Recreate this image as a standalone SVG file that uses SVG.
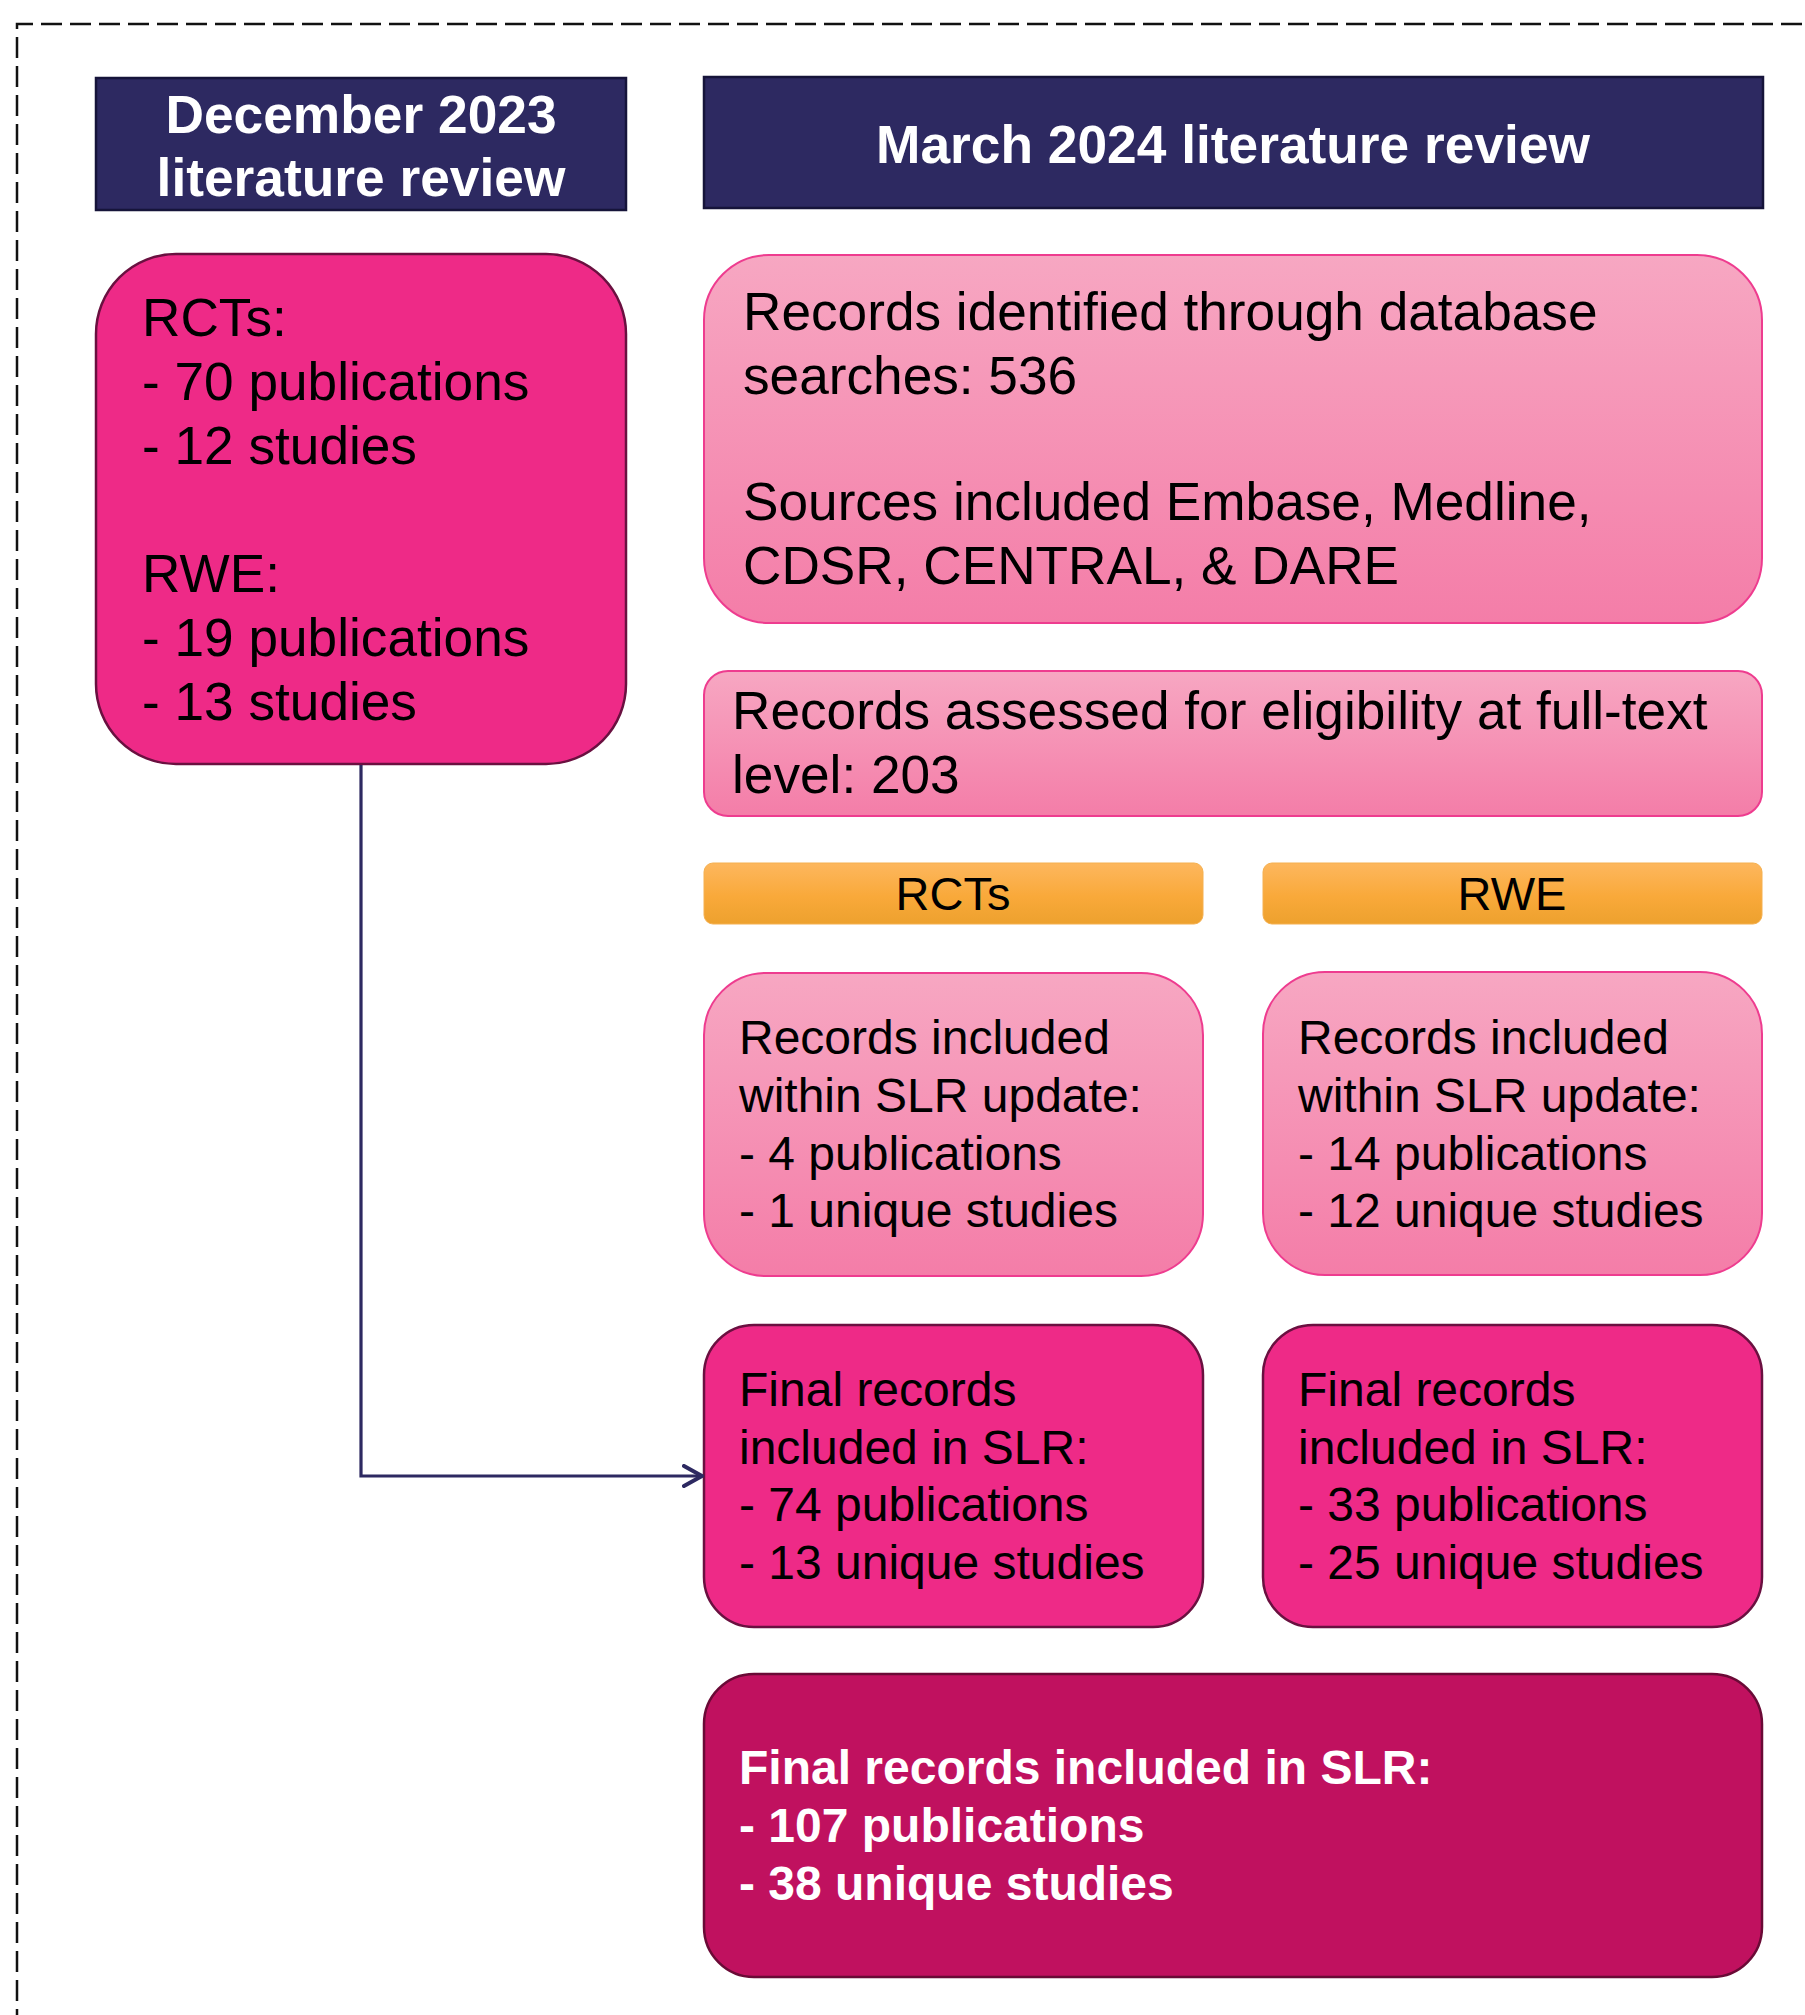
<svg xmlns="http://www.w3.org/2000/svg" width="1805" height="2015" viewBox="0 0 1805 2015">
  <defs>
    <linearGradient id="lightPink" x1="0" y1="0" x2="0" y2="1">
      <stop offset="0" stop-color="#F7A7C2"/>
      <stop offset="1" stop-color="#F47DA8"/>
    </linearGradient>
    <linearGradient id="orange" x1="0" y1="0" x2="0" y2="1">
      <stop offset="0" stop-color="#FDB75E"/>
      <stop offset="0.55" stop-color="#F9A93A"/>
      <stop offset="1" stop-color="#EDA12E"/>
    </linearGradient>
    <marker id="chevron" viewBox="0 0 24 24" markerWidth="24" markerHeight="24" refX="20" refY="12" markerUnits="userSpaceOnUse" orient="auto">
      <path d="M2,2 L20,12 L2,22" fill="none" stroke="#2D2961" stroke-width="4" stroke-linecap="round" stroke-linejoin="round"/>
    </marker>
    <style>
      text { font-family: "Liberation Sans", Arial, sans-serif; }
      .hdr { fill: #2D2961; stroke: #16143A; stroke-width: 2.5; }
      .hdrText { fill: #FFFFFF; font-weight: bold; font-size: 53.3px; text-anchor: middle; }
      .hot { fill: #EE2A87; stroke: #6A1040; stroke-width: 2.5; }
      .light { fill: url(#lightPink); stroke: #EE3C8F; stroke-width: 2; }
      .bar { fill: url(#orange); stroke: #F5B050; stroke-width: 1; }
      .deep { fill: #C0115F; stroke: #6A0A36; stroke-width: 2.5; }
      .t52 { fill: #000000; font-size: 53.2px; }
      .t47 { fill: #000000; font-size: 48px; }
      .t46c { fill: #000000; font-size: 47px; text-anchor: middle; }
      .tw { fill: #FFFFFF; font-size: 48px; font-weight: bold; }
      .frame { fill: none; stroke: #111111; stroke-width: 2.5; stroke-dasharray: 21 8; }
      .link { fill: none; stroke: #2D2961; stroke-width: 3.2; }
    </style>
  </defs>

  <rect width="1805" height="2015" fill="#FFFFFF"/>

  <!-- dashed frame around the figure -->
  <path class="frame" d="M17,2030 V24 H1820"/>

  <!-- column headers -->
  <g id="hdr-dec2023">
    <rect class="hdr" x="96" y="78" width="530" height="132"/>
    <text class="hdrText" x="361" y="133">December 2023</text>
    <text class="hdrText" x="361" y="196">literature review</text>
  </g>
  <g id="hdr-mar2024">
    <rect class="hdr" x="704" y="77" width="1059" height="131"/>
    <text class="hdrText" x="1233" y="163">March 2024 literature review</text>
  </g>

  <!-- December 2023 results -->
  <g id="dec-results">
    <rect class="hot" x="96" y="254" width="530" height="510" rx="80" ry="80"/>
    <text class="t52" x="142" y="336">RCTs:</text>
    <text class="t52" x="142" y="400">- 70 publications</text>
    <text class="t52" x="142" y="464">- 12 studies</text>
    <text class="t52" x="142" y="592">RWE:</text>
    <text class="t52" x="142" y="656">- 19 publications</text>
    <text class="t52" x="142" y="720">- 13 studies</text>
  </g>

  <!-- March 2024 flow -->
  <g id="identified">
    <rect class="light" x="704" y="255" width="1058" height="368" rx="65" ry="65"/>
    <text class="t52" x="743" y="330">Records identified through database</text>
    <text class="t52" x="743" y="394">searches: 536</text>
    <text class="t52" x="743" y="520">Sources included Embase, Medline,</text>
    <text class="t52" x="743" y="584">CDSR, CENTRAL, &amp; DARE</text>
  </g>

  <g id="assessed">
    <rect class="light" x="704" y="671" width="1058" height="145" rx="24" ry="24"/>
    <text class="t52" x="732" y="729">Records assessed for eligibility at full-text</text>
    <text class="t52" x="732" y="793">level: 203</text>
  </g>

  <g id="bar-rcts">
    <rect class="bar" x="704" y="863" width="499" height="61" rx="9" ry="9"/>
    <text class="t46c" x="953" y="910">RCTs</text>
  </g>
  <g id="bar-rwe">
    <rect class="bar" x="1263" y="863" width="499" height="61" rx="9" ry="9"/>
    <text class="t46c" x="1512" y="910">RWE</text>
  </g>

  <g id="included-rcts">
    <rect class="light" x="704" y="973" width="499" height="303" rx="62" ry="62"/>
    <text class="t47" x="739" y="1054">Records included</text>
    <text class="t47" x="739" y="1112">within SLR update:</text>
    <text class="t47" x="739" y="1170">- 4 publications</text>
    <text class="t47" x="739" y="1227">- 1 unique studies</text>
  </g>
  <g id="included-rwe">
    <rect class="light" x="1263" y="972" width="499" height="303" rx="62" ry="62"/>
    <text class="t47" x="1298" y="1054">Records included</text>
    <text class="t47" x="1298" y="1112">within SLR update:</text>
    <text class="t47" x="1298" y="1170">- 14 publications</text>
    <text class="t47" x="1298" y="1227">- 12 unique studies</text>
  </g>

  <g id="final-rcts">
    <rect class="hot" x="704" y="1325" width="499" height="302" rx="50" ry="50"/>
    <text class="t47" x="739" y="1406">Final records</text>
    <text class="t47" x="739" y="1464">included in SLR:</text>
    <text class="t47" x="739" y="1521">- 74 publications</text>
    <text class="t47" x="739" y="1579">- 13 unique studies</text>
  </g>
  <g id="final-rwe">
    <rect class="hot" x="1263" y="1325" width="499" height="302" rx="50" ry="50"/>
    <text class="t47" x="1298" y="1406">Final records</text>
    <text class="t47" x="1298" y="1464">included in SLR:</text>
    <text class="t47" x="1298" y="1521">- 33 publications</text>
    <text class="t47" x="1298" y="1579">- 25 unique studies</text>
  </g>

  <g id="final-total">
    <rect class="deep" x="704" y="1674" width="1058" height="303" rx="50" ry="50"/>
    <text class="tw" x="739" y="1784">Final records included in SLR:</text>
    <text class="tw" x="739" y="1842">- 107 publications</text>
    <text class="tw" x="739" y="1900">- 38 unique studies</text>
  </g>

  <!-- connectors -->
  <g id="connectors">
    <path class="link" d="M361,765 V1476 H702" marker-end="url(#chevron)"/>
  </g>
</svg>
